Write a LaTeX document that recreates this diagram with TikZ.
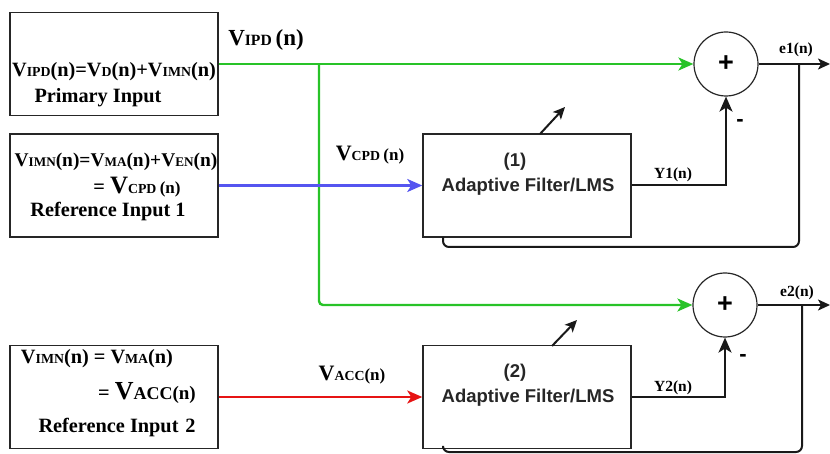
\documentclass[tikz,border=0pt]{standalone}
\usepackage{fontspec}
\setmainfont{Liberation Serif}
\setsansfont{Liberation Sans}
\usetikzlibrary{arrows.meta}
\definecolor{cg}{RGB}{40,195,40}
\definecolor{cb}{RGB}{85,85,240}
\definecolor{cr}{RGB}{230,20,20}
\newcommand\lw[1]{\scalebox{0.68}{#1}}
\newcommand\fs[1]{\fontsize{#1}{#1}\selectfont}
\begin{document}
\begin{tikzpicture}[x=1pt,y=-1pt,
  inbox/.style={draw=black!85, line width=1.3pt, minimum width=208pt, minimum height=103pt, inner sep=0pt},
  filt/.style={draw=black!85, line width=1.5pt, minimum width=208pt, minimum height=103pt, inner sep=0pt},
  sumc/.style={draw=black!85, circle, line width=1.2pt, minimum size=64pt, inner sep=0pt, font=\sffamily\bfseries\fs{27}},
  ser/.style={font=\bfseries\fs{20.3}, inner sep=0pt},
  big/.style={font=\bfseries\fs{23}, inner sep=0pt},
  sml/.style={font=\bfseries\fs{15.5}, inner sep=0pt},
  sans/.style={font=\sffamily\bfseries\fs{18.5}, inner sep=0pt, text=black!85},
  arr/.style={-{Stealth[length=15pt,width=13pt,inset=4pt]}},
  sarr/.style={-{Stealth[length=12pt,width=11pt,inset=3pt]}},
  gl/.style={cg, line width=2.4pt},
  bl/.style={cb, line width=2.4pt},
  rl/.style={cr, line width=2.4pt},
  kl/.style={black!90, line width=2pt},
]
\useasboundingbox (0,0) rectangle (830,454);

% input boxes
\node[inbox] (in1) at (114,64) {};
\node[inbox] (in2) at (114,185.5) {};
\node[inbox] (in3) at (114,397) {};
\node[ser] (t1a) at (114,72) {V\lw{IPD}(n)=V\lw{D}(n)+V\lw{IMN}(n)};
\node[ser] (t1b) at (98,98) {Primary Input};
\node[ser, font=\bfseries\fs{19.4}] (t2a) at (116,162) {V\lw{IMN}(n)=V\lw{MA}(n)+V\lw{EN}(n)};
\node[ser] (t2b) at (137,187) {= {\fs{25}V}\lw{CPD}\,{\fs{17}(n)}};
\node[ser] (t3a) at (97,359) {V\lw{IMN}(n) = V\lw{MA}(n)};
\node[ser] (t2c) at (108,212) {Reference Input 1};
\node[ser] (t3b) at (147,393) {= {\fs{26}V}{\fs{18}ACC}{\fs{19}(n)}};
\node[ser] (t3c) at (117,428) {Reference Input\,\,2};

% filters
\node[filt] (f1) at (527,185.5) {};
\node[filt] (f2) at (527,397) {};
\node[sans] (f1n) at (515,162) {(1)};
\node[sans] (f1t) at (528,187) {Adaptive Filter/LMS};
\node[sans] (f2n) at (515,373) {(2)};
\node[sans] (f2t) at (528,398) {Adaptive Filter/LMS};

% summing junctions
\node[sumc] (s1) at (726,64) {+};
\node[sumc] (s2) at (725,305) {+};

% labels
\node[big] (l1) at (266,40) {V\lw{IPD}\,(n)};
\node[ser] (l2) at (370,155) {{\fs{22}V}\lw{CPD}\,{\fs{17}(n)}};
\node[ser] (l3) at (352,375) {{\fs{22}V}\lw{ACC}{\fs{17}(n)}};
\node[sml] (y1) at (673,175) {Y1(n)};
\node[sml] (y2) at (673,388) {Y2(n)};
\node[sml] (e1) at (796,50) {e1(n)};
\node[sml] (e2) at (797,293) {e2(n)};
\node[font=\sffamily\bfseries\fs{22}, inner sep=0pt] (m1) at (740,123) {-};
\node[font=\sffamily\bfseries\fs{22}, inner sep=0pt] (m2) at (743,358) {-};

% coordinates
\coordinate (br) at (319,64);
\coordinate (o1) at (830,64);
\coordinate (o2) at (830,305);
\coordinate (fb1) at (799,64);
\coordinate (fb1c) at (443,247);
\coordinate (fb1e) at (443,237);
\coordinate (fb2) at (802,305);
\coordinate (fb2c) at (443,452);
\coordinate (fb2e) at (443,448.5);
\coordinate (d1a) at (540,134);
\coordinate (d1b) at (565,107);
\coordinate (d2a) at (552,346);
\coordinate (d2b) at (577,320);

% connectors
\draw[gl,arr] (in1.east) -- (s1.west);
\draw[gl,arr,rounded corners=4pt] (br) |- (s2.west);
\draw[bl,arr] (in2.east) -- (f1.west);
\draw[rl,arr] (in3.east) -- (f2.west);
\draw[kl,arr] (f1.east) -| (s1.south);
\draw[kl,arr] (f2.east) -| (s2.south);
\draw[kl,sarr] (s1.east) -- (o1);
\draw[kl,sarr] (s2.east) -- (o2);
\draw[kl,rounded corners=6pt] (fb1) |- (fb1c) -- (fb1e);
\draw[kl,rounded corners=6pt] (fb2) |- (fb2c) -- (fb2e);
\draw[kl,sarr] (d1a) -- (d1b);
\draw[kl,sarr] (d2a) -- (d2b);
\end{tikzpicture}
\end{document}
